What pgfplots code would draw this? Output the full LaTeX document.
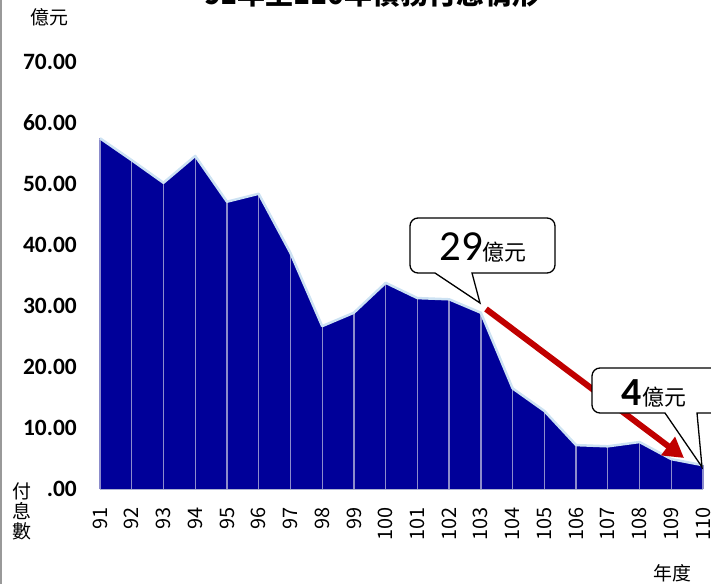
\documentclass[border=0pt]{standalone}
\usepackage{pgfplots}
\pgfplotsset{compat=1.18}
\usepackage{fontspec}
\setmainfont{Carlito}
\newfontfamily\cjk{Noto Sans CJK TC}
\usetikzlibrary{arrows.meta}
\definecolor{areablue}{RGB}{0,0,153}
\definecolor{dropline}{RGB}{140,140,204}
\definecolor{glow}{RGB}{205,226,243}
\definecolor{axisline}{RGB}{196,204,216}
\definecolor{arrowred}{RGB}{192,0,0}
\begin{document}
\begin{tikzpicture}
\begin{axis}[
  at={(100bp,-489bp)}, anchor=south west,
  scale only axis, width=603bp, height=427bp,
  xmin=91, xmax=110, ymin=0, ymax=70,
  clip=false,
  axis x line*=bottom, axis y line*=left,
  y axis line style={draw=none},
  x axis line style={draw=axisline, line width=2bp},
  major tick length=0pt,
  xtick={91,...,110},
  xticklabels={91,92,93,94,95,96,97,98,99,100,101,102,103,104,105,106,107,108,109,110},
  xticklabel shift=18bp,
  xticklabel style={rotate=90, anchor=east, inner sep=0pt, font=\cjk\fontsize{20}{20}\selectfont},
  ytick={0,10,...,70},
  yticklabels={.00,10.00,20.00,30.00,40.00,50.00,60.00,70.00},
  yticklabel style={anchor=east, inner sep=0pt, xshift=-23bp, font=\bfseries\fontsize{23.5}{23.5}\selectfont},
]
\addplot[fill=areablue, draw=none] coordinates {
(91,57.5) (92,53.9) (93,50.2) (94,54.6) (95,47.1) (96,48.4) (97,38.7) (98,26.7) (99,28.9) (100,33.8)
(101,31.3) (102,31.1) (103,28.9) (104,16.5) (105,12.8) (106,7.2) (107,7.0) (108,7.7) (109,4.9) (110,3.9)
} \closedcycle;
\addplot[ycomb, draw=dropline, line width=1.3bp, mark=none] coordinates {
(91,57.5) (92,53.9) (93,50.2) (94,54.6) (95,47.1) (96,48.4) (97,38.7) (98,26.7) (99,28.9) (100,33.8)
(101,31.3) (102,31.1) (103,28.9) (104,16.5) (105,12.8) (106,7.2) (107,7.0) (108,7.7) (109,4.9) (110,3.9)
};
\addplot[draw=glow, line width=2.5bp, line join=round, mark=none] coordinates {
(91,57.5) (92,53.9) (93,50.2) (94,54.6) (95,47.1) (96,48.4) (97,38.7) (98,26.7) (99,28.9) (100,33.8)
(101,31.3) (102,31.1) (103,28.9) (104,16.5) (105,12.8) (106,7.2) (107,7.0) (108,7.7) (109,4.9) (110,3.9)
};
\end{axis}
\begin{scope}[x=1bp, y=-1bp]
\draw[gray!80, line width=1.5bp] (0.75,0) -- (0.75,584);
\node[anchor=base, inner sep=0pt, font=\cjk\bfseries\fontsize{28}{28}\selectfont] at (372,5) {91年至110年債務付息情形};
\node[inner sep=0pt, font=\cjk\fontsize{19}{19}\selectfont] at (49,17.5) {億元};
\node[inner sep=0pt, font=\cjk\fontsize{19}{19}\selectfont] at (672,573) {年度};
\node[inner sep=0pt, align=center, font=\cjk\fontsize{19}{20}\selectfont] at (22,511) {付\\息\\數};
\draw[arrowred, line width=6bp, -{Triangle[length=20bp,width=22bp]}] (486,309) -- (684,458);
\draw[black, line width=1.3bp, fill=white] (435,273) -- (480,303) -- (472,273) [rounded corners=8bp] -- (555,273) -- (555,218) -- (410,218) -- (410,273) [sharp corners] -- cycle;
\node[anchor=base, inner sep=0pt] at (483,260) {\fontsize{43}{43}\selectfont 29\cjk\fontsize{22}{22}\selectfont 億元};
\draw[black, line width=1.3bp, fill=white] (665,413) -- (702,467) -- (697,413) [rounded corners=8bp] -- (745,413) -- (745,368) -- (592,368) -- (592,413) [sharp corners] -- cycle;
\node[anchor=base, inner sep=0pt] at (654,405) {\fontsize{40}{40}\selectfont\bfseries 4\cjk\mdseries\fontsize{22}{22}\selectfont 億元};
\pgfresetboundingbox
\useasboundingbox (0,0) rectangle (711,584);
\end{scope}
\end{tikzpicture}
\end{document}
